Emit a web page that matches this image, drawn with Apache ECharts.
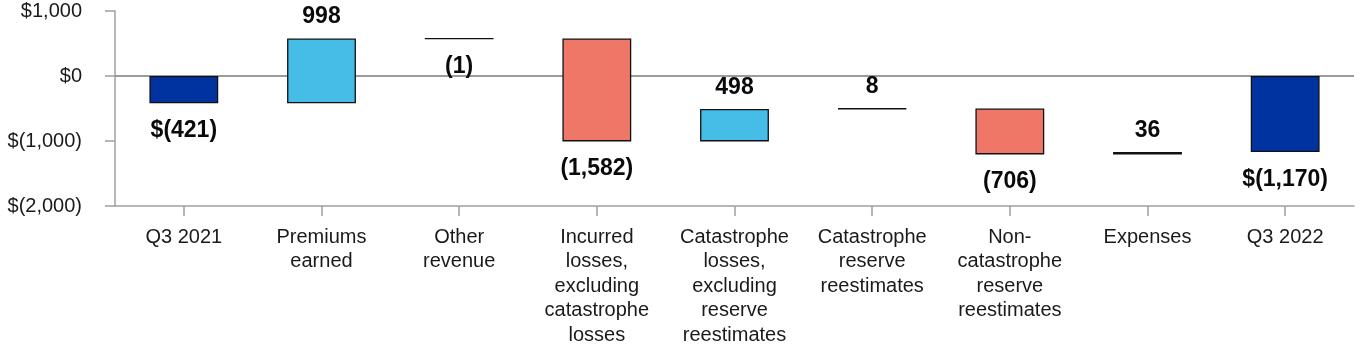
<!DOCTYPE html>
<html>
<head>
<meta charset="utf-8">
<script src="https://cdn.jsdelivr.net/npm/echarts@6/dist/echarts.min.js"></script>
<style>html,body{margin:0;padding:0;background:#fff}#c{width:1364px;height:360px}</style>
</head>
<body>
<div id="c"></div>
<script>
const categories = ['Q3 2021', 'Premiums\nearned', 'Other\nrevenue', 'Incurred\nlosses,\nexcluding\ncatastrophe\nlosses',
  'Catastrophe\nlosses,\nexcluding\nreserve\nreestimates', 'Catastrophe\nreserve\nreestimates',
  'Non-\ncatastrophe\nreserve\nreestimates', 'Expenses', 'Q3 2022'];
const deltas = [-421, 998, -1, -1582, 498, 8, -706, 36, -1170];
const isTotal = [true, false, false, false, false, false, false, false, true];
const valueLabels = ['$(421)', '998', '(1)', '(1,582)', '498', '8', '(706)', '36', '$(1,170)'];
const yTicks = [-2000, -1000, 0, 1000];
const yTickLabels = ['$(2,000)', '$(1,000)', '$0', '$1,000'];

const C_TOTAL = '#0033A0', C_UP = '#45BDE6', C_DOWN = '#EE7767';

let running = 0;
const baseData = [], barData = [];
deltas.forEach((d, i) => {
  let base, val;
  if (isTotal[i]) { base = 0; val = d; running = d; }
  else { base = running; val = d; running += d; }
  baseData.push(base);
  const color = isTotal[i] ? C_TOTAL : (Math.abs(d) < 50 ? '#000' : (d > 0 ? C_UP : C_DOWN));
  const up = val > 0;
  barData.push({
    value: val,
    itemStyle: { color: color },
    label: { position: up ? 'top' : 'bottom', distance: up ? 10 : 16 }
  });
});

const chart = echarts.init(document.getElementById('c'));
chart.setOption({
  animation: false,
  grid: { left: 115, right: 10, top: 11, bottom: 154, containLabel: false, outerBoundsMode: 'none' },
  xAxis: {
    type: 'category',
    data: categories,
    axisLine: { onZero: false, lineStyle: { color: '#a0a0a0', width: 1.5 } },
    axisTick: { show: true, alignWithLabel: true, length: 10, lineStyle: { color: '#a0a0a0', width: 1.5 } },
    axisLabel: { interval: 0, margin: 19, color: '#1a1a1a', fontSize: 20, lineHeight: 24.5, fontFamily: 'Liberation Sans' }
  },
  yAxis: {
    type: 'value',
    min: -2000, max: 1000, interval: 1000,
    splitLine: { show: false },
    axisLine: { show: true, lineStyle: { color: '#a0a0a0', width: 1.5 } },
    axisTick: { show: true, length: 10, lineStyle: { color: '#a0a0a0', width: 1.5 } },
    axisLabel: {
      margin: 33, color: '#1a1a1a', fontSize: 20, fontFamily: 'Liberation Sans',
      formatter: v => { const k = yTicks.indexOf(v); return k >= 0 ? yTickLabels[k] : ''; }
    }
  },
  series: [
    {
      type: 'bar', stack: 'w', stackStrategy: 'all', barWidth: '50%',
      itemStyle: { color: 'transparent', borderWidth: 0 },
      silent: true,
      data: baseData
    },
    {
      type: 'bar', stack: 'w', stackStrategy: 'all', barWidth: '50%',
      itemStyle: { borderColor: '#111', borderWidth: 1.3 },
      label: {
        show: true, fontSize: 23, fontWeight: 'bold', color: '#0a0a0a', fontFamily: 'Liberation Sans',
        formatter: p => valueLabels[p.dataIndex]
      },
      markLine: {
        silent: true, symbol: 'none', z: 1,
        label: { show: false },
        lineStyle: { color: '#7a7a7a', width: 1.5, type: 'solid' },
        data: [{ yAxis: 0 }]
      },
      data: barData
    }
  ]
});
</script>
</body>
</html>
